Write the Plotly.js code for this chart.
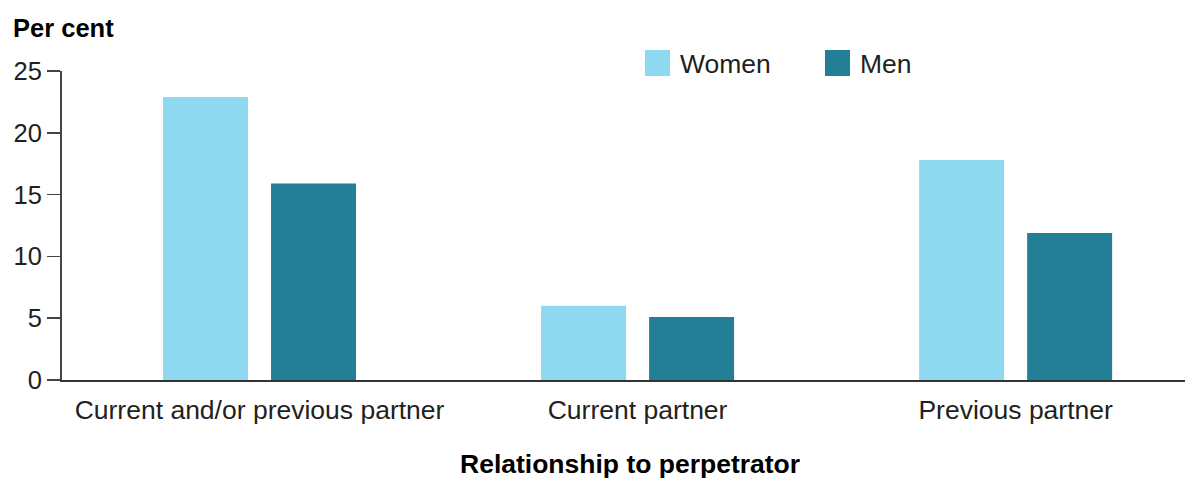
<!DOCTYPE html>
<html>
<head>
<meta charset="utf-8">
<script src="https://cdn.plot.ly/plotly-3.0.1.min.js"></script>
<style>html,body{margin:0;padding:0;background:#fff;}#chart{width:1185px;height:480px;}</style>
</head>
<body>
<div id="chart"></div>
<script>
var categories = ["Current and/or previous partner", "Current partner", "Previous partner"];
var women = [22.9, 6.0, 17.8];
var men = [15.9, 5.1, 11.9];
var seriesNames = ["Women", "Men"];
var seriesColors = ["#8ed8f0", "#237f96"];
var yTicks = [0, 5, 10, 15, 20, 25];
var yTitle = "Per cent";
var xTitle = "Relationship to perpetrator";

var W = 1185, H = 480, ML = 62, MR = 0, MT = 71, MB = 100;
var PW = W - ML - MR, PH = H - MT - MB;
function px(x) { return (x - ML) / PW; }
function py(y) { return (H - MB - y) / PH; }

var font = "Liberation Sans, Arial, Helvetica, sans-serif";
var traces = [
  {type: "bar", name: seriesNames[0], x: categories, y: women, marker: {color: seriesColors[0]}, showlegend: false, hoverinfo: "x+y+name"},
  {type: "bar", name: seriesNames[1], x: categories, y: men, marker: {color: seriesColors[1]}, showlegend: false, hoverinfo: "x+y+name"}
];

var legendX = [645, 825];
var shapes = [], annotations = [];
for (var i = 0; i < 2; i++) {
  shapes.push({type: "rect", xref: "paper", yref: "paper",
    x0: px(legendX[i]), x1: px(legendX[i] + 25), y0: py(76), y1: py(50),
    fillcolor: seriesColors[i], line: {width: 0}});
  annotations.push({xref: "paper", yref: "paper", x: px(legendX[i] + 33), y: py(64),
    xanchor: "left", yanchor: "middle", text: seriesNames[i], showarrow: false,
    font: {family: font, size: 26.5, color: "#231f20"}});
}
annotations.push({xref: "paper", yref: "paper", x: px(11), y: py(28), xanchor: "left", yanchor: "middle",
  text: "<b>" + yTitle + "</b>", showarrow: false, font: {family: font, size: 25.5, color: "#000"}});
annotations.push({xref: "paper", yref: "paper", x: px(630), y: py(464), xanchor: "center", yanchor: "middle",
  text: "<b>" + xTitle + "</b>", showarrow: false, borderpad: 0, font: {family: font, size: 26.5, color: "#000"}});

var layout = {
  width: W, height: H,
  margin: {l: ML, r: MR, t: MT, b: MB, pad: 0},
  paper_bgcolor: "#fff", plot_bgcolor: "#fff",
  barmode: "group", bargap: 0.4286, bargroupgap: 0.213,
  font: {family: font, size: 25, color: "#231f20"},
  showlegend: false,
  xaxis: {
    type: "category", range: [-0.5225, 2.448], showgrid: false, zeroline: false,
    showline: true, linecolor: "#333", linewidth: 1.5, ticks: "", fixedrange: true,
    ticklabelstandoff: 6,
    tickfont: {family: font, size: 26.5, color: "#231f20"}, automargin: false
  },
  yaxis: {
    range: [0, 25], tickvals: yTicks, ticktext: yTicks.map(String), showgrid: false, zeroline: false,
    showline: true, linecolor: "#444", linewidth: 2, ticks: "outside", ticklen: 13, tickwidth: 1.5,
    tickcolor: "#444", fixedrange: true, automargin: false,
    tickfont: {family: font, size: 25.5, color: "#231f20"}
  },
  shapes: shapes,
  annotations: annotations
};
Plotly.newPlot("chart", traces, layout, {displayModeBar: false, staticPlot: true});
</script>
</body>
</html>
